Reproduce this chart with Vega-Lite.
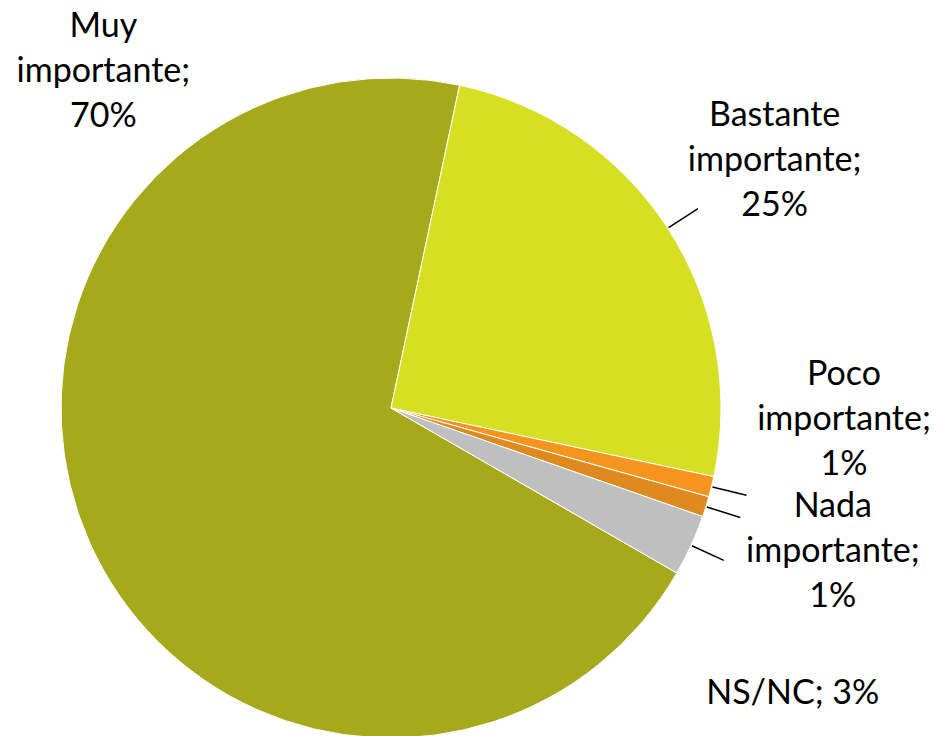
{
  "$schema": "https://vega.github.io/schema/vega-lite/v6.json",
  "width": 782,
  "height": 656,
  "autosize": {"type": "none"},
  "padding": {"left": 0, "top": 80, "right": 157, "bottom": 0},
  "background": "white",
  "config": {"view": {"stroke": null}, "text": {"font": "Lato", "fontSize": 34, "lineHeight": 45, "lineBreak": "\n", "color": "black", "align": "center", "baseline": "middle"}},
  "data": {"values": [
    {"category": "Muy importante", "label": "Muy\nimportante;\n70%", "value": 70, "ord": 1},
    {"category": "Bastante importante", "label": "Bastante\nimportante;\n25%", "value": 25, "ord": 2},
    {"category": "Poco importante", "label": "Poco\nimportante;\n1%", "value": 1, "ord": 3},
    {"category": "Nada importante", "label": "Nada\nimportante;\n1%", "value": 1, "ord": 4},
    {"category": "NS/NC", "label": "NS/NC; 3%", "value": 3, "ord": 5}
  ]},
  "transform": [
    {"window": [{"op": "sum", "field": "value", "as": "cum"}], "sort": [{"field": "ord"}], "frame": [null, 0]},
    {"window": [{"op": "mean", "field": "cum", "as": "mid"}], "sort": [{"field": "ord"}], "frame": [-1, 0]}
  ],
  "layer": [
    {
      "mark": {"type": "arc", "radius": 330, "stroke": "white", "strokeWidth": 1},
      "encoding": {
        "theta": {"field": "value", "type": "quantitative", "stack": true, "scale": {"domain": [0, 100], "range": [2.0944, 8.3776]}},
        "order": {"field": "ord", "type": "quantitative"},
        "color": {"field": "category", "type": "nominal", "legend": null,
          "scale": {"domain": ["Muy importante", "Bastante importante", "Poco importante", "Nada importante", "NS/NC"],
                    "range": ["#A6A91C", "#D7DF23", "#F7941D", "#E0891F", "#BFBFBF"]}}
      }
    },
    {
      "transform": [{"filter": {"field": "ord", "gt": 1}}],
      "mark": {"type": "arc", "radius": 366, "radius2": 331, "stroke": "black", "strokeWidth": 1.5, "fill": null},
      "encoding": {
        "theta": {"field": "mid", "type": "quantitative", "stack": null},
        "theta2": {"field": "mid"}
      }
    },
    {
      "transform": [{"filter": {"field": "ord", "equal": 1}}],
      "mark": {"type": "text", "radius": 343, "dx": -359, "dy": -45},
      "encoding": {"text": {"field": "label"}, "theta": {"field": "mid", "type": "quantitative", "stack": null}}
    },
    {
      "transform": [{"filter": {"field": "ord", "equal": 2}}],
      "mark": {"type": "text", "radius": 455, "dx": 2, "dy": -44},
      "encoding": {"text": {"field": "label"}, "theta": {"field": "mid", "type": "quantitative", "stack": null}}
    },
    {
      "transform": [{"filter": {"field": "ord", "equal": 3}}],
      "mark": {"type": "text", "radius": 450, "dx": 16, "dy": -140},
      "encoding": {"text": {"field": "label"}, "theta": {"field": "mid", "type": "quantitative", "stack": null}}
    },
    {
      "transform": [{"filter": {"field": "ord", "equal": 4}}],
      "mark": {"type": "text", "radius": 463, "dx": 0, "dy": -39},
      "encoding": {"text": {"field": "label"}, "theta": {"field": "mid", "type": "quantitative", "stack": null}}
    },
    {
      "transform": [{"filter": {"field": "ord", "equal": 5}}],
      "mark": {"type": "text", "radius": 455, "dx": -12, "dy": 97},
      "encoding": {"text": {"field": "label"}, "theta": {"field": "mid", "type": "quantitative", "stack": null}}
    }
  ]
}
